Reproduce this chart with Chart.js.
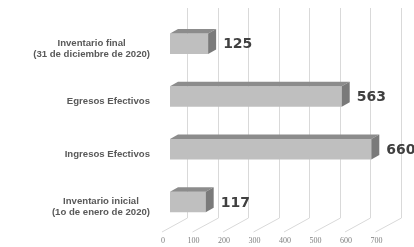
<!DOCTYPE html>
<html>
<head>
<meta charset="utf-8">
<script src="https://cdn.jsdelivr.net/npm/chart.js@4/dist/chart.umd.min.js"></script>
<style>
  html, body { margin: 0; padding: 0; background: #ffffff; }
  #wrap { width: 414px; height: 247px; }
</style>
</head>
<body>
<div id="wrap"><canvas id="c" width="414" height="247"></canvas></div>
<script>
// ---- data ----
const categories = [
  ["Inventario final", "(31 de diciembre de 2020)"],
  ["Egresos Efectivos"],
  ["Ingresos Efectivos"],
  ["Inventario inicial", "(1o de enero de 2020)"]
];
const values = [125, 563, 660, 117];
const tickValues = [0, 100, 200, 300, 400, 500, 600, 700];

// ---- 3D look ----
const DX = 8, DY = -4.5;          // bar depth
const WALL_DX = 17;                // back wall offset
const FLOOR_DX = -8;               // front floor offset

const pseudo3D = {
  id: 'pseudo3D',
  beforeDatasetsDraw(chart) {
    const ctx = chart.ctx, xs = chart.scales.x;
    ctx.save();
    ctx.strokeStyle = '#d9d9d9';
    ctx.lineWidth = 1;
    const wallTop = 8, wallBottom = 218, floorFront = 232;
    tickValues.forEach(v => {
      const px = xs.getPixelForValue(v);
      const bx = Math.round(px + WALL_DX) + 0.5;
      ctx.beginPath();
      ctx.moveTo(bx, wallTop);
      ctx.lineTo(bx, wallBottom);
      ctx.lineTo(px + FLOOR_DX, floorFront);
      ctx.stroke();
    });
    ctx.fillStyle = '#7f7f7f';
    ctx.font = '8px "Liberation Serif", serif';
    ctx.textAlign = 'center';
    ctx.textBaseline = 'middle';
    tickValues.forEach(v => {
      const px = xs.getPixelForValue(v);
      ctx.fillText(String(v), px - 7, 241);
    });
    ctx.restore();
  },
  afterDatasetsDraw(chart) {
    const ctx = chart.ctx;
    const meta = chart.getDatasetMeta(0);
    ctx.save();
    meta.data.forEach((bar, i) => {
      const p = bar.getProps(['x', 'y', 'base', 'height'], true);
      const top = p.y - p.height / 2, bottom = p.y + p.height / 2;
      // top face
      ctx.fillStyle = '#8c8c8c';
      ctx.beginPath();
      ctx.moveTo(p.base, top);
      ctx.lineTo(p.x, top);
      ctx.lineTo(p.x + DX, top + DY);
      ctx.lineTo(p.base + DX, top + DY);
      ctx.closePath();
      ctx.fill();
      // side face
      ctx.fillStyle = '#7a7a7a';
      ctx.beginPath();
      ctx.moveTo(p.x, top);
      ctx.lineTo(p.x + DX, top + DY);
      ctx.lineTo(p.x + DX, bottom + DY);
      ctx.lineTo(p.x, bottom);
      ctx.closePath();
      ctx.fill();
      // value label
      ctx.fillStyle = '#404040';
      ctx.font = 'bold 14px "DejaVu Sans", sans-serif';
      ctx.textAlign = 'left';
      ctx.textBaseline = 'middle';
      ctx.fillText(String(values[i]), p.x + DX + 7, p.y + 1);
    });
    ctx.restore();
  },
  afterDraw(chart) {
    const ctx = chart.ctx, ys = chart.scales.y;
    ctx.save();
    ctx.fillStyle = '#595959';
    // fit the font so the widest label line spans ~117px, as in the reference
    const fam = '"Liberation Sans", Arial, sans-serif';
    ctx.font = 'bold 10px ' + fam;
    let maxW = 0;
    categories.forEach(lines => lines.forEach(l => { maxW = Math.max(maxW, ctx.measureText(l).width); }));
    const size = Math.max(8, Math.min(11, 10 * 117 / maxW));
    ctx.font = 'bold ' + size.toFixed(2) + 'px ' + fam;
    ctx.textAlign = 'center';
    ctx.textBaseline = 'middle';
    const right = 150, lh = 10.5;
    categories.forEach((lines, i) => {
      const cy = ys.getPixelForValue(i) + 5;
      const w = Math.max(...lines.map(l => ctx.measureText(l).width));
      const cx = right - w / 2;
      const y0 = cy - (lines.length - 1) * lh / 2;
      lines.forEach((l, k) => ctx.fillText(l, cx, y0 + k * lh));
    });
    ctx.restore();
  }
};

new Chart(document.getElementById('c'), {
  type: 'bar',
  data: {
    labels: categories,
    datasets: [{
      data: values,
      backgroundColor: '#bfbfbf',
      borderWidth: 0,
      categoryPercentage: 1,
      barPercentage: 0.39
    }]
  },
  options: {
    indexAxis: 'y',
    responsive: false,
    animation: false,
    devicePixelRatio: 1,
    layout: { padding: { left: 170, right: 30.5, top: 17.3, bottom: 18.7 } },
    plugins: { legend: { display: false }, tooltip: { enabled: false } },
    scales: {
      x: { min: 0, max: 700, display: false, ticks: { stepSize: 100 } },
      y: { display: false, offset: true }
    }
  },
  plugins: [pseudo3D]
});
</script>
</body>
</html>
